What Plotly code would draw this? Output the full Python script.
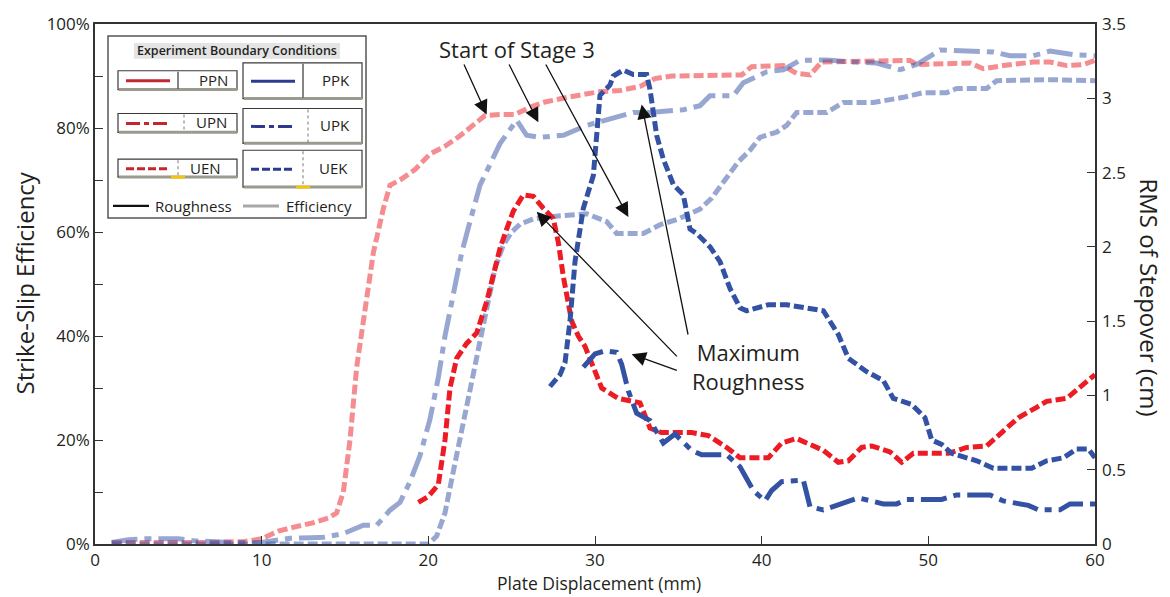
import plotly.graph_objects as go

# ---------------- data ----------------
# Strike-slip efficiency (%) vs plate displacement (mm)
uen_eff_x = [1, 3, 5, 7, 9, 10, 11, 12, 13, 14, 14.5, 14.9, 15.3, 15.7, 16.1, 16.7, 17.3, 17.7,
             18.3, 19.2, 20.1, 21.0, 21.9, 22.8, 23.4, 24.3, 25.2, 26.1, 27.0, 28.5, 30.3, 31.5,
             32.7, 33.6, 34.6, 38.8, 39.4, 41.3, 42.1, 42.9, 43.6, 48.9, 49.3, 52.5, 53.3, 54.5,
             56.3, 57.3, 58.3, 59.3, 60]
uen_eff_y = [0.3, 0.2, 0.3, 0.3, 0.5, 1, 2.5, 3.3, 4, 5, 6, 10, 20, 34, 43, 56, 64.5, 69,
             70, 72, 75, 76.5, 78.5, 81, 82.4, 82.6, 82.6, 84, 85, 86, 87, 87.2,
             88, 89.5, 90, 90.2, 91.8, 92, 90.5, 90.2, 92.7, 93, 92.2, 92.5, 91.4, 92,
             92.7, 92.7, 92, 92.2, 93]

upk_eff_x = [1, 2, 3, 5, 6, 8, 10, 11, 11.7, 13, 13.7, 14.9, 16.1, 16.9, 17.7, 18.3, 18.9, 19.5,
             20.1, 20.6, 21.0, 21.5, 22.0, 22.5, 23.1, 23.7, 24.3, 25.3, 25.9, 26.7, 28.1, 29.5,
             32.3, 33.3, 35.3, 36.3, 36.9, 38.3, 38.9, 40.3, 41.3, 42.3, 43.9, 45.3, 46.9, 48.3,
             49.3, 50.7, 52.3, 53.9, 54.9, 56.3, 57.3, 58.7, 60]
upk_eff_y = [0.3, 0.8, 1.0, 1.0, 0.6, 0.3, 0.3, 0.8, 1.1, 1.2, 1.3, 2, 3.6, 3.6, 6.5, 8, 12, 17,
             24, 32, 40, 48, 56, 62, 69, 73, 77, 81.5, 78.6, 78.2, 78.6, 80.5,
             83, 83, 83.5, 84.3, 86.2, 86.2, 88.7, 90.8, 91.2, 93, 93.1, 92.7, 92.5, 91.2,
             92.2, 95, 94.8, 94.6, 93.9, 93.9, 94.8, 94.1, 93.9]

uek_eff_x = [1, 5, 10, 15, 20.0, 20.5, 21.0, 21.5, 22.0, 22.5, 23.0, 23.5, 24.0, 24.5, 25.0, 25.5,
             26.3, 27.5, 29.5, 30.7, 31.3, 32.9, 33.9, 35.0, 36.3, 37.0, 37.8, 38.6, 39.3, 39.9,
             40.9, 41.5, 42.1, 43.9, 44.9, 46.7, 48.5, 49.3, 49.7, 51.1, 51.7, 53.5, 54.1, 57.3,
             58.5, 60]
uek_eff_y = [0, 0, 0, 0, 0, 1.5, 6, 14, 22, 30, 38, 46, 53, 57.5, 60, 61.5,
             62.5, 63, 63.5, 62, 59.7, 59.7, 61.4, 62.5, 64.4, 66.5, 70, 73.5, 75.7, 78.2,
             79.2, 80.5, 83, 83, 84.9, 84.9, 85.9, 86.4, 86.8, 86.8, 87.6, 87.6, 89.1, 89.3,
             89.3, 89.1]

# RMS of stepover (cm) vs plate displacement (mm)
uen_rms_x = [19.4, 20.0, 20.6, 21.0, 21.3, 21.7, 22.3, 22.9, 23.5, 24.3, 24.7, 25.1, 25.7, 26.3,
             26.9, 27.5, 27.8, 28.1, 28.6, 29.0, 29.4, 30.0, 30.4, 31.4, 32.7, 33.3, 34.0, 35.8,
             36.8, 37.9, 38.7, 40.4, 41.2, 42.1, 43.7, 44.6, 45.2, 46.0, 46.6, 47.7, 48.4, 49.1,
             51.2, 52.3, 53.5, 54.4, 55.4, 56.5, 57.1, 58.3, 59.3, 60.0]
uen_rms_y = [0.28, 0.32, 0.40, 0.70, 1.05, 1.25, 1.35, 1.42, 1.63, 1.99, 2.12, 2.24, 2.35, 2.34,
             2.26, 2.19, 2.03, 1.80, 1.50, 1.40, 1.33, 1.16, 1.05, 0.98, 0.95, 0.78, 0.75, 0.75,
             0.73, 0.65, 0.58, 0.58, 0.68, 0.71, 0.63, 0.55, 0.56, 0.65, 0.66, 0.62, 0.55, 0.61,
             0.61, 0.65, 0.66, 0.75, 0.85, 0.92, 0.96, 0.98, 1.08, 1.14]

upk_rms_x = [29.3, 30.0, 30.6, 31.3, 31.6, 32.0, 32.5, 33.3, 34.1, 34.8, 35.8, 36.4, 37.9, 38.7,
             39.5, 40.2, 40.6, 41.2, 42.5, 42.9, 43.7, 45.0, 45.8, 47.3, 48.1, 48.7, 50.8, 51.7,
             53.7, 54.5, 56.0, 56.6, 57.9, 58.5, 60]
upk_rms_y = [1.19, 1.28, 1.30, 1.29, 1.21, 1.03, 0.88, 0.83, 0.68, 0.74, 0.63, 0.60, 0.60, 0.52,
             0.36, 0.29, 0.36, 0.42, 0.43, 0.25, 0.23, 0.28, 0.31, 0.27, 0.27, 0.30, 0.30, 0.33,
             0.33, 0.29, 0.26, 0.23, 0.23, 0.27, 0.27]

uek_rms_x = [27.3, 27.9, 28.2, 28.5, 28.8, 29.3, 29.9, 30.1, 30.3, 30.9, 31.1, 31.7, 32.3, 33.1,
             33.3, 33.7, 34.1, 34.7, 35.3, 35.7, 36.1, 36.9, 37.5, 38.1, 38.7, 39.1, 40.4, 41.5,
             43.7, 44.6, 45.2, 46.3, 47.3, 47.9, 49.0, 49.8, 50.2, 50.8, 51.4, 52.9, 53.9, 56.2,
             57.1, 58.1, 58.9, 59.6, 60]
uek_rms_y = [1.06, 1.14, 1.22, 1.50, 1.90, 2.26, 2.48, 2.79, 3.02, 3.09, 3.15, 3.19, 3.16, 3.16,
             3.06, 2.75, 2.59, 2.42, 2.35, 2.12, 2.09, 2.00, 1.90, 1.72, 1.59, 1.57, 1.61, 1.61,
             1.57, 1.41, 1.25, 1.16, 1.10, 0.98, 0.94, 0.85, 0.70, 0.67, 0.61, 0.56, 0.51, 0.51,
             0.56, 0.58, 0.64, 0.64, 0.58]

eff_ticks = [0, 10, 20, 30, 40, 50, 60, 70, 80, 90, 100]
eff_ticktext = ["0%", "", "20%", "", "40%", "", "60%", "", "80%", "", "100%"]
rms_ticks = [0, 0.5, 1, 1.5, 2, 2.5, 3, 3.5]
rms_ticktext = ["0", "0.5", "1", "1.5", "2", "2.5", "3", "3.5"]
disp_ticks = [0, 10, 20, 30, 40, 50, 60]

# ---------------- styling ----------------
RED = "rgb(237,28,36)"
BLUE = "rgb(52,82,164)"
INK = "#231F20"
FONT = "Open Sans"
DASH = "10px,4px"
DASHDOT = "26px,7px,7px,7px"

W, H = 1170, 597
ML, MR, MT, MB = 95, 75, 21, 53


def px(xp):
    return (xp - ML) / (W - ML - MR)


def py(yp):
    return (H - MB - yp) / (H - MT - MB)


def label(x, y, text, size, xanchor="center", **kw):
    return dict(xref="paper", yref="paper", x=px(x), y=py(y), text=text,
                showarrow=False, xanchor=xanchor, yanchor="middle",
                font=dict(family=FONT, size=size, color=INK, weight=kw.pop("weight", 400)),
                **kw)


fig = go.Figure()


def add_curve(x, y, color, dash, axis, opacity):
    fig.add_trace(go.Scatter(
        x=x, y=y, mode="lines", yaxis=axis, opacity=opacity,
        line=dict(color=color, width=5, dash=dash),
        hoverinfo="skip", showlegend=False))


# efficiency (faded) curves
add_curve(uen_eff_x, uen_eff_y, RED, DASH, "y", 0.5)
add_curve(upk_eff_x, upk_eff_y, BLUE, DASHDOT, "y", 0.5)
add_curve(uek_eff_x, uek_eff_y, BLUE, DASH, "y", 0.5)
# roughness curves
add_curve(uen_rms_x, uen_rms_y, RED, DASH, "y2", 1)
add_curve(upk_rms_x, upk_rms_y, BLUE, DASHDOT, "y2", 1)
add_curve(uek_rms_x, uek_rms_y, BLUE, DASH, "y2", 1)

shapes = []
annotations = []

# ---- legend panel ----
shapes.append(dict(type="rect", xref="paper", yref="paper", layer="above",
                   x0=px(108), x1=px(366), y0=py(33), y1=py(216),
                   line=dict(color="#555", width=1.5), fillcolor="white"))
shapes.append(dict(type="rect", xref="paper", yref="paper", layer="above",
                   x0=px(134), x1=px(340), y0=py(40), y1=py(56),
                   line=dict(width=0), fillcolor="#e4e4e4"))
annotations.append(label(237, 48, "Experiment Boundary Conditions", 12.5, weight=600))

legend_cells = [
    # x0, y0, x1, y1, divider, divider dash, colour, dash, text, text x, mark
    (118, 68, 237, 87, 178, "solid", "#C1272D", "solid", "PPN", 213, False),
    (118, 111, 237, 130, 184, "dot", "#C1272D", "14px,4px,5px,4px", "UPN", 211, False),
    (118, 157, 237, 175, 178, "dot", "#C1272D", "8px,3px", "UEN", 205, True),
    (243, 60, 362, 96, 303, "solid", "#2E3A8F", "solid", "PPK", 336, False),
    (243, 106, 362, 141, 308, "dot", "#2E3A8F", "14px,4px,5px,4px", "UPK", 335, False),
    (243, 148, 362, 185, 303, "dot", "#2E3A8F", "8px,3px", "UEK", 333, True),
]
for x0, y0, x1, y1, dv, dvdash, col, dash, txt, tx, mark in legend_cells:
    shapes.append(dict(type="rect", xref="paper", yref="paper", layer="above",
                       x0=px(x0), x1=px(x1), y0=py(y0), y1=py(y1),
                       line=dict(color="#3a3a3a", width=1.2), fillcolor="white"))
    shapes.append(dict(type="line", xref="paper", yref="paper", layer="above",
                       x0=px(x0 + 1), x1=px(x1), y0=py(y1), y1=py(y1),
                       line=dict(color="#9a9a8e", width=3)))
    shapes.append(dict(type="line", xref="paper", yref="paper", layer="above",
                       x0=px(dv), x1=px(dv), y0=py(y0 + 1), y1=py(y1 - 1),
                       line=dict(color="#333" if dvdash == "solid" else "#777",
                                 width=1.2 if dvdash == "solid" else 1, dash=dvdash)))
    ym = (y0 + y1) / 2 + 0.5
    lx0 = x0 + 8
    shapes.append(dict(type="line", xref="paper", yref="paper", layer="above",
                       x0=px(lx0), x1=px(lx0 + 44), y0=py(ym), y1=py(ym),
                       line=dict(color=col, width=3, dash=dash)))
    annotations.append(label(tx, ym - 1, txt, 15))
    if mark:
        shapes.append(dict(type="line", xref="paper", yref="paper", layer="above",
                           x0=px(dv - 7), x1=px(dv + 7), y0=py(y1), y1=py(y1),
                           line=dict(color="#F2C511", width=3)))

shapes.append(dict(type="line", xref="paper", yref="paper", layer="above",
                   x0=px(113), x1=px(149), y0=py(204), y1=py(204),
                   line=dict(color="#111", width=2.2)))
annotations.append(label(153, 204, "Roughness", 15, xanchor="left"))
shapes.append(dict(type="line", xref="paper", yref="paper", layer="above",
                   x0=px(243), x1=px(279), y0=py(204), y1=py(204),
                   line=dict(color="#a8a8a8", width=3)))
annotations.append(label(284, 204, "Efficiency", 15, xanchor="left"))

# ---- callouts ----
annotations.append(dict(x=25.3, y=95.2, xref="x", yref="y", text="Start of Stage 3",
                        showarrow=False, xanchor="center", yanchor="middle",
                        font=dict(family=FONT, size=22, color=INK)))
annotations.append(dict(x=39.2, y=34.2, xref="x", yref="y", text="Maximum<br>Roughness",
                        showarrow=False, align="center", xanchor="center", yanchor="middle",
                        font=dict(family=FONT, size=22, color=INK)))

callout_arrows = [
    # tip (mm, %), tail (mm, %)
    ((23.5, 82.6), (22.1, 92.5)),
    ((26.6, 81.1), (24.8, 92.5)),
    ((32.0, 62.9), (27.0, 92.5)),
    ((26.5, 63.9), (35.0, 35.8)),
    ((32.8, 84.5), (35.6, 40.0)),
    ((32.2, 36.5), (35.0, 33.3)),
]
for (tx, ty), (ax, ay) in callout_arrows:
    annotations.append(dict(x=tx, y=ty, xref="x", yref="y", ax=ax, ay=ay,
                            axref="x", ayref="y", text="", showarrow=True,
                            arrowhead=2, arrowsize=2.2, arrowwidth=1.3,
                            arrowcolor="#111", standoff=0, startstandoff=0))

# ---- axis titles ----
annotations.append(label(25, 282, "Strike-Slip Efficiency", 24, textangle=-90))
annotations.append(label(1150, 296, "RMS of Stepover (cm)", 24, textangle=90))
annotations.append(label(599, 583, "Plate Displacement (mm)", 17.5))

axis_common = dict(showgrid=False, zeroline=False, ticks="inside", ticklen=8,
                   tickwidth=1.3, tickcolor="#333",
                   tickfont=dict(family=FONT, size=17, color=INK))

fig.update_layout(
    width=W, height=H,
    margin=dict(l=ML, r=MR, t=MT, b=MB),
    paper_bgcolor="white", plot_bgcolor="white",
    xaxis=dict(range=[0, 60], tickvals=disp_ticks, showline=True, linecolor="#333",
               linewidth=1.5, mirror=True, **axis_common),
    yaxis=dict(range=[0, 100], tickvals=eff_ticks, ticktext=eff_ticktext,
               showline=True, linecolor="#333", linewidth=1.5, mirror=True,
               **axis_common),
    yaxis2=dict(range=[0, 3.5], tickvals=rms_ticks, ticktext=rms_ticktext,
                overlaying="y", side="right", showline=False,
                ticklabelstandoff=6, **axis_common),
    shapes=shapes,
    annotations=annotations,
)

fig.write_html("out.html")
